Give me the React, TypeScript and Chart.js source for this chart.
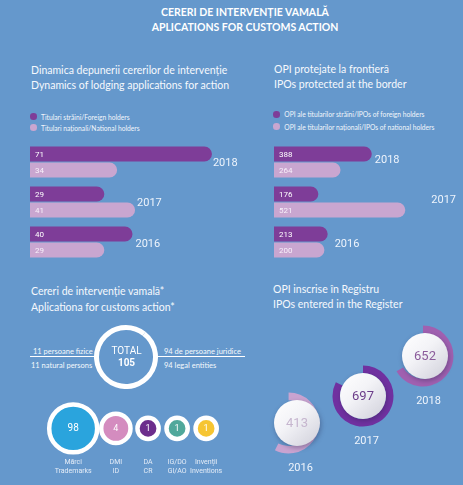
import React, { useEffect, useRef } from 'react';
import { Chart, registerables } from 'chart.js';

Chart.register(...registerables);

// ---------- data ----------
const years = ['2018', '2017', '2016'];
const foreignHolders = [71, 29, 40];
const nationalHolders = [34, 41, 29];
const ipoForeign = [388, 176, 213];
const ipoNational = [264, 521, 200];

const personTypes = ['persoane fizice / natural persons', 'persoane juridice / legal entities'];
const personCounts = [11, 94];

const objectLabelsRo = ['Mărci', 'DMI', 'DA', 'IG/DO', 'Invenții'];
const objectLabelsEn = ['Trademarks', 'ID', 'CR', 'GI/AO', 'Inventions'];
const objectCounts = [98, 4, 1, 1, 1];

const registerYears = ['2016', '2017', '2018'];
const registerCounts = [413, 697, 652];
const registerArcShare = [0.574, 0.825, 0.667];

// ---------- styles ----------
const BG = '#6598cc';
const DARK = '#7e3d98';
const LIGHT = '#c9a6d0';
const objectColors = ['#2aa4dd', '#d48cbf', '#6c2d8c', '#50a89b', '#f6c532'];
const ringColors = ['#c9a3d0', '#7030a0', '#a060b0'];
const ringNumColors = ['#c6b6cf', '#6c3d8a', '#8b5b9b'];

const baseOpts: any = {
  responsive: false,
  animation: false,
  events: [],
  plugins: { legend: { display: false }, tooltip: { enabled: false } },
};

function BarPanel(props: any) {
  const { x, y, w, h, max, foreign, national, gaps, nudges } = props;
  const ref = useRef<HTMLCanvasElement>(null);
  useEffect(() => {
    const labelPlugin = {
      id: 'barLabels',
      afterDatasetsDraw(chart: any) {
        const ctx = chart.ctx;
        const m0 = chart.getDatasetMeta(0);
        const m1 = chart.getDatasetMeta(1);
        ctx.save();
        ctx.textBaseline = 'middle';
        ctx.textAlign = 'left';
        [m0, m1].forEach((m: any, di: number) => {
          m.data.forEach((bar: any, i: number) => {
            ctx.fillStyle = di === 0 ? '#ffffff' : '#f8f0fa';
            ctx.font = '8px Roboto';
            ctx.fillText(String(chart.data.datasets[di].data[i]), bar.base + 5, bar.y + 0.5);
          });
        });
        ctx.font = '11px Roboto';
        ctx.fillStyle = '#eef4fc';
        m0.data.forEach((b0: any, i: number) => {
          const b1: any = m1.data[i];
          const end = Math.max(b0.x, b1.x);
          ctx.fillText(chart.data.labels[i], end + gaps[i], (b0.y + b1.y) / 2 + nudges[i]);
        });
        ctx.restore();
      },
    };
    const ds = (data: number[], color: string) => ({
      data,
      backgroundColor: color,
      borderRadius: 8,
      borderSkipped: 'start',
      categoryPercentage: 0.8,
      barPercentage: 0.95,
    });
    const chart = new Chart(ref.current as HTMLCanvasElement, {
      type: 'bar',
      data: { labels: years, datasets: [ds(foreign, DARK), ds(national, LIGHT)] as any },
      options: {
        ...baseOpts,
        indexAxis: 'y',
        layout: { padding: 0 },
        scales: {
          x: { display: false, min: 0, max },
          y: { display: false },
        },
      },
      plugins: [labelPlugin],
    } as any);
    return () => chart.destroy();
  }, []);
  return <canvas ref={ref} width={w} height={h} style={{ position: 'absolute', left: x, top: y }} />;
}

function TotalRing() {
  const ref = useRef<HTMLCanvasElement>(null);
  useEffect(() => {
    const textPlugin = {
      id: 'totalText',
      afterDraw(chart: any) {
        const ctx = chart.ctx;
        const cx = (chart.chartArea.left + chart.chartArea.right) / 2;
        const cy = (chart.chartArea.top + chart.chartArea.bottom) / 2;
        const total = chart.data.datasets[0].data.reduce((a: number, b: number) => a + b, 0);
        ctx.save();
        ctx.fillStyle = '#ffffff';
        ctx.textAlign = 'center';
        ctx.textBaseline = 'middle';
        ctx.font = '10px Roboto';
        ctx.fillText('TOTAL', cx + 0.5, cy - 5.5);
        ctx.font = 'bold 10px Roboto';
        ctx.fillText(String(total), cx + 0.5, cy + 6.5);
        ctx.restore();
      },
    };
    const chart = new Chart(ref.current as HTMLCanvasElement, {
      type: 'doughnut',
      data: {
        labels: personTypes,
        datasets: [{ data: personCounts, backgroundColor: '#ffffff', borderWidth: 0 }],
      },
      options: { ...baseOpts, cutout: 27, radius: 32 },
      plugins: [textPlugin],
    } as any);
    return () => chart.destroy();
  }, []);
  return <canvas ref={ref} width={64} height={64} style={{ position: 'absolute', left: 94, top: 325 }} />;
}

function ObjectBubbles() {
  const ref = useRef<HTMLCanvasElement>(null);
  useEffect(() => {
    const BORDER = 4.5;
    const GAP = 11.5;
    const radii = objectCounts.map((v) => 10.6 + 2.92 * Math.log(v));
    const xs: number[] = [];
    radii.forEach((r, i) => {
      const outer = r + BORDER / 2;
      if (i === 0) xs.push(31 + outer);
      else xs.push(xs[i - 1] + radii[i - 1] + BORDER / 2 + GAP + outer);
    });
    const labelPlugin = {
      id: 'bubbleLabels',
      afterDatasetsDraw(chart: any) {
        const ctx = chart.ctx;
        const meta = chart.getDatasetMeta(0);
        ctx.save();
        ctx.textAlign = 'center';
        ctx.textBaseline = 'middle';
        meta.data.forEach((pt: any, i: number) => {
          ctx.fillStyle = '#ffffff';
          ctx.font = (i === 0 ? '10px' : '9px') + ' Roboto';
          ctx.fillText(String(objectCounts[i]), pt.x, pt.y + 0.5);
          ctx.fillStyle = '#e4ecf7';
          ctx.font = '7px Roboto';
          ctx.fillText(objectLabelsRo[i], pt.x, pt.y + 34);
          ctx.fillText(objectLabelsEn[i], pt.x, pt.y + 43);
        });
        ctx.restore();
      },
    };
    const chart = new Chart(ref.current as HTMLCanvasElement, {
      type: 'bubble',
      data: {
        labels: objectLabelsRo,
        datasets: [
          {
            data: objectCounts.map((v, i) => ({ x: xs[i], y: 0, r: radii[i] })),
            backgroundColor: objectColors,
            borderColor: '#ffffff',
            borderWidth: BORDER,
            clip: false,
          },
        ],
      },
      options: {
        ...baseOpts,
        layout: { padding: 0 },
        scales: {
          x: { display: false, type: 'linear', min: 0, max: 260 },
          y: { display: false, min: -55, max: 30 },
        },
      },
      plugins: [labelPlugin],
    } as any);
    return () => chart.destroy();
  }, []);
  return <canvas ref={ref} width={260} height={85} style={{ position: 'absolute', left: 0, top: 390 }} />;
}

function RegisterRing(props: any) {
  const { cx, cy, idx } = props;
  const ref = useRef<HTMLCanvasElement>(null);
  useEffect(() => {
    const discPlugin = {
      id: 'disc',
      afterDatasetsDraw(chart: any) {
        const ctx = chart.ctx;
        const x = (chart.chartArea.left + chart.chartArea.right) / 2;
        const y = (chart.chartArea.top + chart.chartArea.bottom) / 2;
        const r = 23;
        ctx.save();
        const g = ctx.createLinearGradient(x - r, y - r, x + r * 0.8, y + r);
        g.addColorStop(0, '#ffffff');
        g.addColorStop(0.45, '#f3f3f7');
        g.addColorStop(1, '#d2d2dc');
        ctx.shadowColor = 'rgba(30,30,70,0.35)';
        ctx.shadowBlur = 5;
        ctx.shadowOffsetX = 1;
        ctx.shadowOffsetY = 2;
        ctx.beginPath();
        ctx.arc(x, y, r, 0, Math.PI * 2);
        ctx.fillStyle = g;
        ctx.fill();
        ctx.restore();
        ctx.save();
        ctx.textAlign = 'center';
        ctx.textBaseline = 'middle';
        ctx.fillStyle = ringNumColors[idx];
        ctx.font = '13px Roboto';
        ctx.fillText(String(registerCounts[idx]), x, y + 0.5);
        ctx.fillStyle = '#eef4fc';
        ctx.font = '11px Roboto';
        ctx.fillText(registerYears[idx], x + 3.5, y + 45);
        ctx.restore();
      },
    };
    const chart = new Chart(ref.current as HTMLCanvasElement, {
      type: 'doughnut',
      data: {
        labels: [registerYears[idx]],
        datasets: [
          {
            data: [registerCounts[idx]],
            backgroundColor: ringColors[idx],
            borderWidth: 0,
          },
        ],
      },
      options: {
        ...baseOpts,
        layout: { padding: { bottom: 26 } },
        radius: 30.5,
        cutout: 24,
        circumference: 360 * registerArcShare[idx],
      },
      plugins: [discPlugin],
    } as any);
    return () => chart.destroy();
  }, []);
  return <canvas ref={ref} width={64} height={90} style={{ position: 'absolute', left: cx - 32, top: cy - 32 }} />;
}

const abs = (left: number, top: number, extra: any = {}) => ({ position: 'absolute' as const, left, top, whiteSpace: 'nowrap' as const, ...extra });

function Dot({ x, y, color }: any) {
  return <div style={abs(x - 3.3, y - 3.3, { width: 6.6, height: 6.6, borderRadius: '50%', background: color })} />;
}

export default function App() {
  const heading = { fontSize: 10.5, lineHeight: '15px', color: '#f6f9fd' };
  const small = { fontSize: 6.7, lineHeight: '8px', color: '#f2f6fb' };
  const lineTxt = { fontSize: 7.5, lineHeight: '9px', color: '#f4f8fc' };
  return (
    <div
      style={{
        position: 'fixed',
        left: 0,
        top: 0,
        width: 463,
        height: 485,
        background: BG,
        overflow: 'hidden',
        fontFamily: 'Lato, "Open Sans", sans-serif',
        color: '#ffffff',
      }}
    >
      <div style={abs(0, 4.6, { width: 490, textAlign: 'center', fontWeight: 700, fontSize: 10.5, lineHeight: '15.4px' })}>
        CERERI DE INTERVENȚIE VAMALĂ
        <br />
        APLICATIONS FOR CUSTOMS ACTION
      </div>

      <div style={abs(31, 63.2, heading)}>
        Dinamica depunerii cererilor de intervenție
        <br />
        Dynamics of lodging applications for action
      </div>
      <div style={abs(274, 61.8, heading)}>
        OPI protejate la frontieră
        <br />
        IPOs protected at the border
      </div>

      <Dot x={33.3} y={116.7} color={DARK} />
      <div style={abs(41, 112.7, small)}>Titulari străini/Foreign holders</div>
      <Dot x={33.3} y={127.7} color={LIGHT} />
      <div style={abs(41, 123.7, small)}>Titulari naționali/National holders</div>

      <Dot x={276.7} y={114.3} color={DARK} />
      <div style={abs(284.3, 110.3, small)}>OPI ale titularilor străini/IPOs of foreign holders</div>
      <Dot x={276.7} y={126.7} color={LIGHT} />
      <div style={abs(284.3, 122.7, small)}>OPI ale titularilor naționali/IPOs of national holders</div>

      <BarPanel x={30} y={142} w={215} h={120} max={83.9} foreign={foreignHolders} national={nationalHolders} gaps={[1, 2, 3]} nudges={[1, 1, 2]} />
      <BarPanel x={274} y={141.5} w={189} h={120} max={750} foreign={ipoForeign} national={ipoNational} gaps={[3, 26, 7]} nudges={[-1.5, -2, 2]} />

      <div style={abs(31, 282.7, { ...heading, lineHeight: '16px' })}>
        Cereri de intervenție vamală*
        <br />
        Aplicationa for customs action*
      </div>
      <div style={abs(273, 281.5, heading)}>
        OPI inscrise în Registru
        <br />
        IPOs entered in the Register
      </div>

      <div style={abs(30, 356.2, { width: 66, height: 1, background: '#ffffff' })} />
      <div style={abs(156, 356.2, { width: 89, height: 1, background: '#ffffff' })} />
      <div style={abs(33, 346.5, lineTxt)}>11 persoane fizice</div>
      <div style={abs(31, 360.5, lineTxt)}>11 natural persons</div>
      <div style={abs(164, 346.5, lineTxt)}>94 de persoane juridice</div>
      <div style={abs(164, 360.5, lineTxt)}>94 legal entities</div>

      <TotalRing />
      <ObjectBubbles />

      <RegisterRing cx={297.2} cy={422.8} idx={0} />
      <RegisterRing cx={363.3} cy={396.2} idx={1} />
      <RegisterRing cx={424.5} cy={355.5} idx={2} />
    </div>
  );
}
